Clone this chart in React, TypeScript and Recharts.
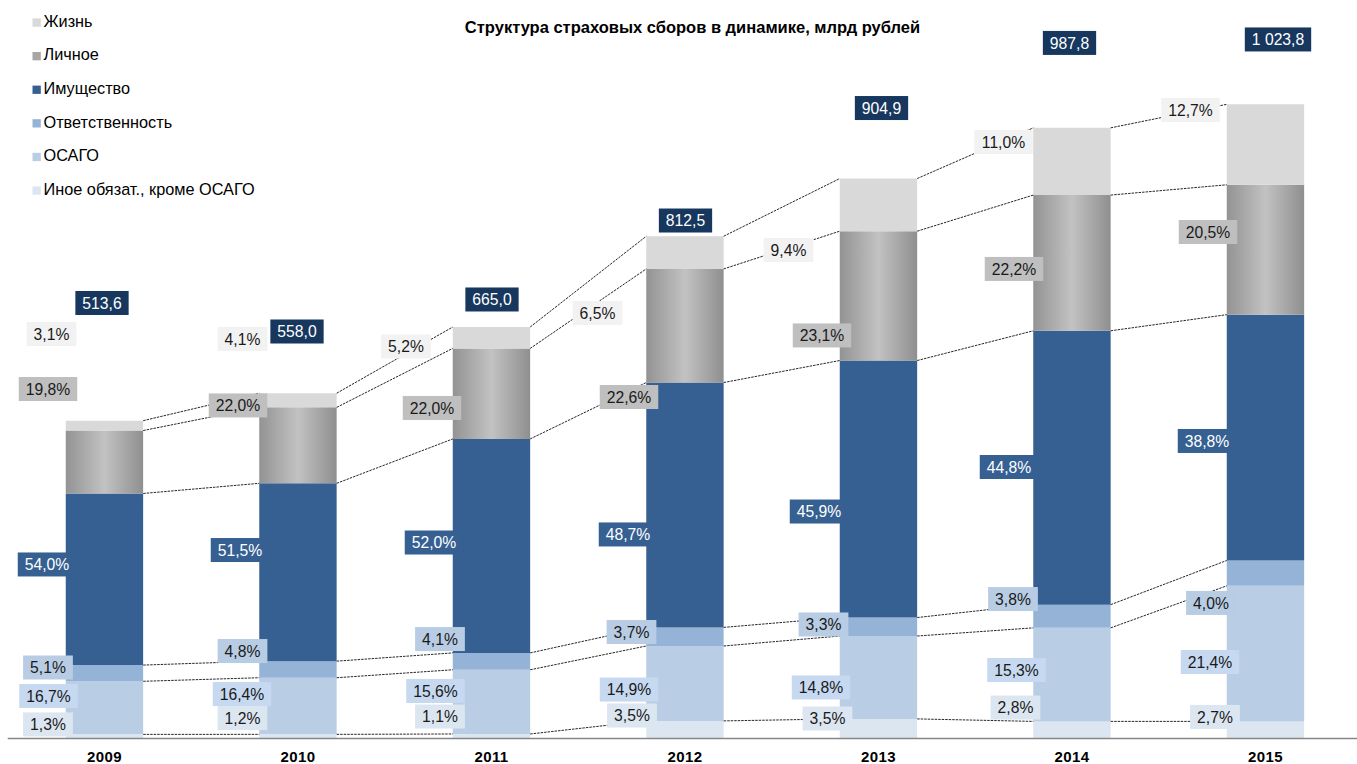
import React from 'react';
import { ComposedChart, Bar, XAxis, YAxis, ReferenceLine, Scatter } from 'recharts';

// ---------- data ----------
const YEARS = ['2009', '2010', '2011', '2012', '2013', '2014', '2015'];
const TOTALS = [513.6, 558.0, 665.0, 812.5, 904.9, 987.8, 1023.8];
// shares, % (stack order bottom -> top)
const PCT_OTHER = [1.3, 1.2, 1.1, 3.5, 3.5, 2.8, 2.7];
const PCT_OSAGO = [16.7, 16.4, 15.6, 14.9, 14.8, 15.3, 21.4];
const PCT_LIABILITY = [5.1, 4.8, 4.1, 3.7, 3.3, 3.8, 4.0];
const PCT_PROPERTY = [54.0, 51.5, 52.0, 48.7, 45.9, 44.8, 38.8];
const PCT_PERSONAL = [19.8, 22.0, 22.0, 22.6, 23.1, 22.2, 20.5];
const PCT_LIFE = [3.1, 4.1, 5.2, 6.5, 9.4, 11.0, 12.7];

// ---------- label layout nudges (px, relative to bar centre / segment middle) ----------
const NUDGE_TOTAL = { dx: [-2.5, -1, 0.5, 0.5, 3, -2.5, 12.5], dy: [-117.7, -61.7, -27.5, -15.2, -70.5, -84.3, -65.5] };
const NUDGE = {
  life: { dx: [-53, -55.5, -85.5, -87.5, -90, -68.5, -75], dy: [-91.6, -61.3, 8.8, 60.4, 45.1, -19.5, -34.6] },
  personal: { dx: [-56.5, -60, -59.5, -56, -56.5, -58, -57.5], dy: [-73, -39.9, 14.3, 71.3, 39.6, 6, -17.7] },
  property: { dx: [-57.5, -58, -57.5, -57, -59.5, -63, -58.5], dy: [-14.8, -22.2, -3.4, 29.5, 22.5, -0.7, 3.4] },
  liability: { dx: [-56.5, -55.5, -51.5, -53.5, -55, -59, -54.5], dy: [-5.7, -18.4, -22.3, -4.7, -2.3, -17.2, 29.8] },
  osago: { dx: [-56, -56, -56, -56, -57.5, -55.5, -55.5], dy: [-11.9, -12, -10.9, 6.1, 10, -4.6, 8.4] },
  other: { dx: [-56.5, -55.5, -51.5, -53, -51, -56.5, -50.5], dy: [-12, -18.4, -19.7, -14.2, -10.2, -22.4, -13] },
};

const SERIES = [
  { key: 'other', name: 'Иное обязат., кроме ОСАГО', pct: PCT_OTHER, fill: '#dce6f1', legend: '#dce6f1', labelBg: '#dce6f1', labelColor: '#1a1a1a' },
  { key: 'osago', name: 'ОСАГО', pct: PCT_OSAGO, fill: '#b9cde5', legend: '#b9cde5', labelBg: '#c6d9f1', labelColor: '#1a1a1a' },
  { key: 'liability', name: 'Ответственность', pct: PCT_LIABILITY, fill: '#95b3d7', legend: '#95b3d7', labelBg: '#b8cce4', labelColor: '#1a1a1a' },
  { key: 'property', name: 'Имущество', pct: PCT_PROPERTY, fill: '#366092', legend: '#366092', labelBg: '#366092', labelColor: '#ffffff' },
  { key: 'personal', name: 'Личное', pct: PCT_PERSONAL, fill: 'url(#gradPersonal)', legend: '#a6a6a6', labelBg: '#bfbfbf', labelColor: '#1a1a1a' },
  { key: 'life', name: 'Жизнь', pct: PCT_LIFE, fill: '#d9d9d9', legend: '#d9d9d9', labelBg: '#f2f2f2', labelColor: '#1a1a1a' },
];

const HALF = 0.2; // half bar width in category units
const FONT = '"Liberation Sans", Arial, sans-serif';
const LABEL_FS = 15.7;

const fmt = (v: number) => {
  const s = v.toFixed(1);
  const [int, dec] = s.split('.');
  const intS = int.replace(/\B(?=(\d{3})+(?!\d))/g, ' ');
  return `${intS},${dec}`;
};

const rows = YEARS.map((year, i) => {
  const r: any = { x: i + 0.5, year };
  SERIES.forEach((s) => {
    r[s.key] = (TOTALS[i] * s.pct[i]) / 100;
  });
  return r;
});

// cumulative tops for each boundary
const cum = rows.map((r) => {
  let acc = 0;
  return SERIES.map((s) => {
    acc += r[s.key];
    return acc;
  });
});

const segments: { x: number; y: number }[][] = [];
for (let i = 0; i < YEARS.length - 1; i++) {
  for (let k = 0; k < SERIES.length; k++) {
    segments.push([
      { x: i + 0.5 + HALF, y: cum[i][k] },
      { x: i + 1.5 - HALF, y: cum[i + 1][k] },
    ]);
  }
}

const labels: any[] = [];
rows.forEach((r, i) => {
  let below = 0;
  SERIES.forEach((s) => {
    const v = r[s.key];
    const n = (NUDGE as any)[s.key];
    labels.push({
      x: i + 0.5,
      y: below + v / 2,
      text: `${fmt(s.pct[i])}%`,
      bg: s.labelBg,
      color: s.labelColor,
      dx: n.dx[i],
      dy: n.dy[i],
    });
    below += v;
  });
  labels.push({
    x: i + 0.5,
    y: TOTALS[i],
    text: fmt(TOTALS[i]),
    bg: '#17375e',
    color: '#ffffff',
    dx: NUDGE_TOTAL.dx[i],
    dy: NUDGE_TOTAL.dy[i],
  });
});

const charW = (c: string) => {
  if (c >= '0' && c <= '9') return 0.556;
  if (c === ',' || c === ' ' || c === '.') return 0.278;
  if (c === '%') return 0.889;
  return 0.556;
};

const LabelBox = (props: any) => {
  const { cx, cy, payload } = props;
  if (cx == null || cy == null || !payload) return null;
  const tw = payload.text.split('').reduce((a: number, c: string) => a + charW(c) * LABEL_FS, 0);
  const w = tw + 14;
  const h = 24;
  const x = cx + payload.dx;
  const y = cy + payload.dy;
  return (
    <g>
      <rect x={x - w / 2} y={y - h / 2} width={w} height={h} fill={payload.bg} />
      <text
        x={x}
        y={y + LABEL_FS * 0.358}
        textAnchor="middle"
        fontFamily={FONT}
        fontSize={LABEL_FS}
        fill={payload.color}
      >
        {payload.text}
      </text>
    </g>
  );
};

const YearTick = (props: any) => {
  const { x, y, payload } = props;
  return (
    <text
      x={x}
      y={y + 23.5}
      textAnchor="middle"
      fontFamily={FONT}
      fontSize={15}
      fontWeight="bold"
      letterSpacing={0.4}
      fill="#000"
    >
      {YEARS[Math.round(payload.value - 0.5)]}
    </text>
  );
};

export default function App() {
  const legendItems = [...SERIES].reverse();
  return (
    <div
      style={{
        position: 'fixed',
        left: 0,
        top: 0,
        width: 1357,
        height: 764,
        overflow: 'hidden',
        background: '#fff',
      }}
    >
      <ComposedChart
        width={1370}
        height={764}
        data={rows}
        margin={{ top: 57.8, right: 7.75, bottom: 0, left: 7.75 }}
      >
        <defs>
          <linearGradient id="gradPersonal" x1="0" y1="0" x2="1" y2="0">
            <stop offset="0%" stopColor="#939393" />
            <stop offset="50%" stopColor="#c2c2c2" />
            <stop offset="100%" stopColor="#8f8f8f" />
          </linearGradient>
        </defs>
        <XAxis
          type="number"
          dataKey="x"
          domain={[0, 7]}
          ticks={YEARS.map((_, i) => i + 0.5)}
          height={25.5}
          tickLine={false}
          tickSize={0}
          tickMargin={0}
          axisLine={{ stroke: '#868686', strokeWidth: 1.5 }}
          tick={<YearTick />}
          interval={0}
        />
        <YAxis type="number" dataKey="y" domain={[0, 1100]} hide />
        {segments.map((seg, j) => (
          <ReferenceLine
            key={`seg-${j}`}
            segment={seg}
            stroke="#262626"
            strokeWidth={1}
            strokeDasharray="2.5 1"
            ifOverflow="visible"
          />
        ))}
        {SERIES.map((s) => (
          <Bar
            key={s.key}
            dataKey={s.key}
            name={s.name}
            stackId="a"
            fill={s.fill}
            barSize={77.4}
            isAnimationActive={false}
          />
        ))}
        <Scatter data={labels} dataKey="y" shape={<LabelBox />} isAnimationActive={false} />
      </ComposedChart>
      <svg
        width={1357}
        height={764}
        style={{ position: 'absolute', left: 0, top: 0, pointerEvents: 'none' }}
      >
        <text x={692.5} y={32.7} textAnchor="middle" fontFamily={FONT} fontSize={16.5} fontWeight="bold" fill="#000">
          Структура страховых сборов в динамике, млрд рублей
        </text>
        {legendItems.map((s, i) => {
          const base = 26.7 + i * 33.6;
          return (
            <g key={s.key}>
              <rect x={32.5} y={base - 8.3} width={8.3} height={8.3} fill={s.legend} />
              <text x={43.5} y={base} fontFamily={FONT} fontSize={16.3} fill="#000">
                {s.name}
              </text>
            </g>
          );
        })}
      </svg>
    </div>
  );
}
